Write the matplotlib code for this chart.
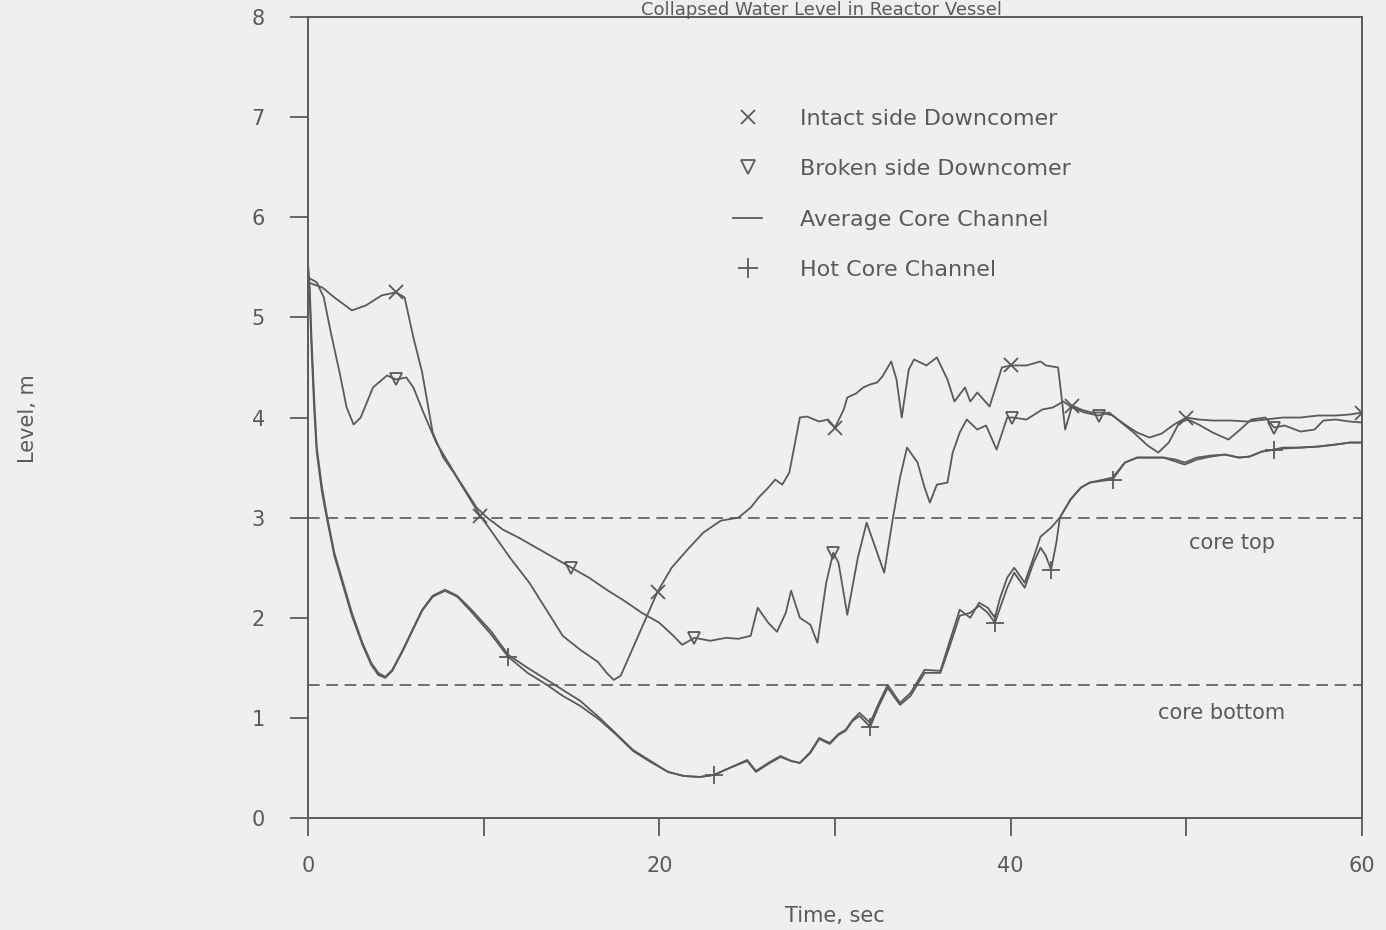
import numpy as np
import matplotlib
matplotlib.use('Agg')
import matplotlib.pyplot as plt
from matplotlib.lines import Line2D

# collapsed water levels (time in s, level in m)
intact_t = [0, 0.8, 1.5, 2.5, 3.3, 4.2, 5.0, 5.5, 6.0, 6.5, 7.1, 7.7, 8.3, 9.0, 9.8, 10.5,
            11.5, 12.6, 13.5, 14.5, 15.5, 16.5, 17.0, 17.4, 17.8, 18.5, 19.3, 19.9, 20.7,
            21.6, 22.5, 23.5, 24.5, 25.2, 25.7, 26.1, 26.6, 27.0, 27.4, 28.0, 28.4, 29.1,
            29.6, 30.0, 30.5, 30.7, 31.2, 31.6, 32.0, 32.4, 32.7, 33.2, 33.5, 33.8, 34.2,
            34.5, 35.2, 35.8, 36.4, 36.8, 37.4, 37.7, 38.1, 38.8, 39.5, 40.0, 40.9, 41.7,
            42.0, 42.7, 42.9, 43.1, 43.5, 44.0, 44.6, 45.2, 45.8, 46.5, 47.2, 47.9, 48.6,
            49.3, 50.0, 50.7, 51.5, 52.5, 53.5, 54.5, 55.5, 56.5, 57.5, 58.5, 59.3, 60.0]
intact_y = [5.35, 5.3, 5.2, 5.07, 5.12, 5.22, 5.25, 5.2, 4.8, 4.45, 3.85, 3.6, 3.45, 3.25,
            3.02, 2.85, 2.6, 2.35, 2.1, 1.82, 1.68, 1.56, 1.45, 1.38, 1.42, 1.7, 2.02, 2.26,
            2.5, 2.68, 2.85, 2.97, 3.0, 3.1, 3.21, 3.28, 3.38, 3.33, 3.45, 4.0, 4.01, 3.96,
            3.98, 3.9, 4.08, 4.2, 4.24, 4.3, 4.33, 4.35, 4.41, 4.56, 4.38, 4.0, 4.48, 4.58,
            4.52, 4.6, 4.38, 4.16, 4.3, 4.16, 4.25, 4.11, 4.5, 4.52, 4.52, 4.56, 4.52, 4.5,
            4.2, 3.88, 4.12, 4.08, 4.05, 4.05, 4.02, 3.93, 3.85, 3.8, 3.84, 3.93, 4.0, 3.98,
            3.97, 3.97, 3.96, 3.98, 4.0, 4.0, 4.02, 4.02, 4.03, 4.05]
intact_marks = [5.0, 9.8, 19.9, 30.0, 40.0, 43.5, 50.0, 60.0]

broken_t = [0, 0.5, 0.9, 1.3, 1.8, 2.2, 2.6, 3.0, 3.7, 4.5, 5.0, 5.6, 6.0, 6.5, 7.3, 8.5,
            9.6, 10.2, 11.1, 12.0, 13.0, 14.0, 15.0, 16.0, 17.0, 18.0, 19.0, 20.0, 20.8,
            21.3, 22.0, 22.9, 23.8, 24.5, 25.2, 25.6, 26.2, 26.7, 27.2, 27.5, 28.0, 28.6,
            29.0, 29.5, 29.9, 30.2, 30.7, 31.3, 31.8, 32.3, 32.8, 33.3, 33.7, 34.1, 34.7,
            35.1, 35.4, 35.8, 36.4, 36.7, 37.1, 37.5, 38.1, 38.6, 39.2, 39.8, 40.1, 40.9,
            41.8, 42.4, 43.0, 43.5, 44.2, 45.0, 45.6, 46.3, 47.0, 47.8, 48.4, 49.0, 49.6,
            50.1, 50.8, 51.5, 52.4, 53.0, 53.7, 54.5, 55.0, 55.6, 56.5, 57.3, 57.8, 58.5,
            59.3, 60.0]
broken_y = [5.4, 5.35, 5.2, 4.85, 4.45, 4.1, 3.93, 4.0, 4.3, 4.42, 4.38, 4.4, 4.3, 4.08,
            3.75, 3.4, 3.1, 3.0, 2.88, 2.8, 2.7, 2.6, 2.5, 2.4, 2.28, 2.17, 2.05, 1.95, 1.82,
            1.73, 1.8, 1.77, 1.8, 1.79, 1.82, 2.1, 1.95, 1.86, 2.05, 2.27, 2.0, 1.93, 1.75,
            2.35, 2.65, 2.55, 2.03, 2.6, 2.95, 2.7, 2.45, 3.0, 3.4, 3.7, 3.55, 3.3, 3.15,
            3.33, 3.35, 3.65, 3.85, 3.98, 3.88, 3.92, 3.68, 4.0, 4.0, 3.98, 4.08, 4.1, 4.16,
            4.1, 4.05, 4.02, 4.05, 3.95, 3.85, 3.72, 3.65, 3.75, 3.95, 3.98, 3.92, 3.85, 3.78,
            3.87, 3.98, 4.0, 3.9, 3.92, 3.86, 3.88, 3.97, 3.98, 3.96, 3.95]
broken_marks = [5.0, 15.0, 22.0, 29.9, 40.1, 45.0, 55.0]

avg_t = [0, 0.1, 0.2, 0.35, 0.5, 0.8, 1.1, 1.5, 2.0, 2.5, 3.1, 3.6, 4.0, 4.4, 4.8, 5.4,
         6.0, 6.5, 7.1, 7.8, 8.5, 9.2, 10.4, 11.4, 12.5, 13.6, 14.5, 15.5, 16.6, 17.5, 18.5,
         19.5, 20.5, 21.4, 22.3, 23.1, 24.0, 25.0, 25.5, 26.2, 26.9, 27.5, 28.0, 28.6, 29.1,
         29.7, 30.2, 30.6, 31.0, 31.4, 32.0, 32.5, 33.0, 33.7, 34.3, 35.1, 36.0, 36.5, 37.1,
         37.7, 38.2, 38.7, 39.1, 39.4, 39.8, 40.2, 40.8, 41.3, 41.7, 42.3, 42.8, 43.4, 44.0,
         44.5, 45.3, 45.8, 46.5, 47.2, 47.9, 48.7, 49.4, 49.9, 50.6, 51.4, 52.2, 53.0, 53.6,
         54.3, 55.0, 55.5, 56.5, 57.5, 58.5, 59.3, 60.0]
avg_y = [5.55, 5.3, 4.8, 4.2, 3.7, 3.3, 3.0, 2.65, 2.35, 2.05, 1.75, 1.55, 1.45, 1.41, 1.48,
         1.68, 1.9, 2.08, 2.22, 2.28, 2.22, 2.1, 1.87, 1.63, 1.5, 1.38, 1.28, 1.17, 1.0, 0.85,
         0.68, 0.57, 0.46, 0.42, 0.41, 0.43, 0.5, 0.58, 0.47, 0.55, 0.62, 0.57, 0.55, 0.66,
         0.8, 0.75, 0.84, 0.88, 0.98, 1.05, 0.95, 1.15, 1.33, 1.15, 1.25, 1.48, 1.47, 1.75,
         2.08, 2.0, 2.15, 2.1, 2.0, 2.2, 2.4, 2.5, 2.35, 2.6, 2.81, 2.9, 3.0, 3.18, 3.3, 3.35,
         3.38, 3.4, 3.55, 3.6, 3.6, 3.6, 3.58, 3.55, 3.6, 3.62, 3.63, 3.6, 3.61, 3.66, 3.68,
         3.7, 3.7, 3.71, 3.73, 3.75, 3.75]

hot_t = [0, 0.1, 0.2, 0.35, 0.5, 0.8, 1.1, 1.5, 2.0, 2.5, 3.1, 3.6, 4.0, 4.4, 4.8, 5.4,
         6.0, 6.5, 7.1, 7.8, 8.5, 9.2, 10.4, 11.4, 12.5, 13.6, 14.5, 15.5, 16.6, 17.5, 18.5,
         19.5, 20.5, 21.4, 22.3, 23.1, 24.0, 25.0, 25.5, 26.2, 26.9, 27.5, 28.0, 28.6, 29.1,
         29.7, 30.2, 30.6, 31.0, 31.4, 32.0, 32.5, 33.0, 33.7, 34.3, 35.1, 36.0, 36.5, 37.1,
         37.7, 38.2, 38.7, 39.1, 39.4, 39.8, 40.2, 40.8, 41.3, 41.7, 42.0, 42.3, 42.6, 42.8,
         43.4, 44.0, 44.5, 45.3, 45.8, 46.5, 47.2, 47.9, 48.7, 49.4, 49.9, 50.6, 51.4, 52.2,
         53.0, 53.6, 54.3, 55.0, 55.5, 56.5, 57.5, 58.5, 59.3, 60.0]
hot_y = [5.5, 5.2, 4.7, 4.1, 3.65, 3.25, 2.97, 2.62, 2.32, 2.02, 1.73, 1.53, 1.43, 1.4, 1.47,
         1.67, 1.89, 2.07, 2.21, 2.27, 2.21, 2.08, 1.84, 1.61, 1.45, 1.33, 1.22, 1.12, 0.98,
         0.84, 0.67, 0.56, 0.46, 0.42, 0.41, 0.43, 0.5, 0.57, 0.46, 0.54, 0.61, 0.57, 0.55,
         0.65, 0.79, 0.74, 0.83, 0.87, 0.97, 1.02, 0.91, 1.12, 1.3, 1.13, 1.22, 1.45, 1.45,
         1.7, 2.02, 2.05, 2.12, 2.05, 1.95, 2.1, 2.3, 2.45, 2.3, 2.55, 2.7, 2.62, 2.48, 2.75,
         3.0, 3.18, 3.3, 3.35, 3.37, 3.38, 3.55, 3.6, 3.6, 3.6, 3.56, 3.53, 3.58, 3.61, 3.63,
         3.6, 3.61, 3.66, 3.68, 3.69, 3.7, 3.71, 3.73, 3.75, 3.75]
hot_marks = [11.4, 23.1, 32.0, 39.1, 42.3, 45.8, 55.0]

core_top = 3.0
core_bottom = 1.33

labels = ['Intact side Downcomer', 'Broken side Downcomer',
          'Average Core Channel', 'Hot Core Channel']

ink = '#5a5a5a'
paper = '#efefef'

fig = plt.figure(figsize=(13.86, 9.30), dpi=100, facecolor=paper)
ax = fig.add_axes([0.2222, 0.1204, 0.7605, 0.8613], facecolor=paper)


def marks_at(t, when):
    return list(np.where(np.isin(t, when))[0])


ax.plot(intact_t, intact_y, color=ink, lw=1.3, marker='x', ms=10, mew=1.3,
        markevery=marks_at(intact_t, intact_marks))
ax.plot(broken_t, broken_y, color=ink, lw=1.3, marker='v', ms=9, mew=1.3, mfc='none',
        markevery=marks_at(broken_t, broken_marks))
ax.plot(avg_t, avg_y, color=ink, lw=1.3)
ax.plot(hot_t, hot_y, color=ink, lw=1.3, marker='+', ms=13, mew=1.3,
        markevery=marks_at(hot_t, hot_marks))

ax.axhline(core_top, color=ink, lw=1.2, ls=(0, (7, 4)))
ax.axhline(core_bottom, color=ink, lw=1.2, ls=(0, (7, 4)))
ax.text(52.6, core_top - 0.25, 'core top', ha='center', va='center', fontsize=15, color=ink)
ax.text(52.0, core_bottom - 0.28, 'core bottom', ha='center', va='center', fontsize=15, color=ink)

ax.set_xlim(0, 60)
ax.set_ylim(0, 8)
ax.set_xticks(range(0, 61, 10))
ax.set_xticklabels(['0', '', '20', '', '40', '', '60'])
ax.set_yticks(range(0, 9))
ax.tick_params(axis='both', direction='out', length=13, width=1.3, colors=ink, labelsize=15)
ax.tick_params(axis='y', pad=18)
ax.tick_params(axis='x', pad=14)
for s in ax.spines.values():
    s.set_color(ink)
    s.set_linewidth(1.4)

ax.set_xlabel('Time, sec', fontsize=15, color=ink, labelpad=22)
fig.text(0.02, 0.55, 'Level, m', rotation=90, ha='center', va='center', fontsize=15, color=ink)
fig.text(0.593, 0.999, 'Collapsed Water Level in Reactor Vessel', ha='center', va='top',
         fontsize=13, color=ink)

handles = [Line2D([], [], color=ink, ls='none', marker='x', ms=10, mew=1.3),
           Line2D([], [], color=ink, ls='none', marker='v', ms=10, mew=1.3, mfc='none'),
           Line2D([], [], color=ink, lw=1.3),
           Line2D([], [], color=ink, ls='none', marker='+', ms=14, mew=1.3)]
leg = ax.legend(handles, labels, loc='upper left', bbox_to_anchor=(0.529, 0.883),
                bbox_transform=fig.transFigure, frameon=False, fontsize=16,
                handlelength=1.3, handletextpad=1.69, labelspacing=1.37,
                borderpad=0, borderaxespad=0)
for txt in leg.get_texts():
    txt.set_color(ink)

fig.savefig('out.png', dpi=100, facecolor=paper)
